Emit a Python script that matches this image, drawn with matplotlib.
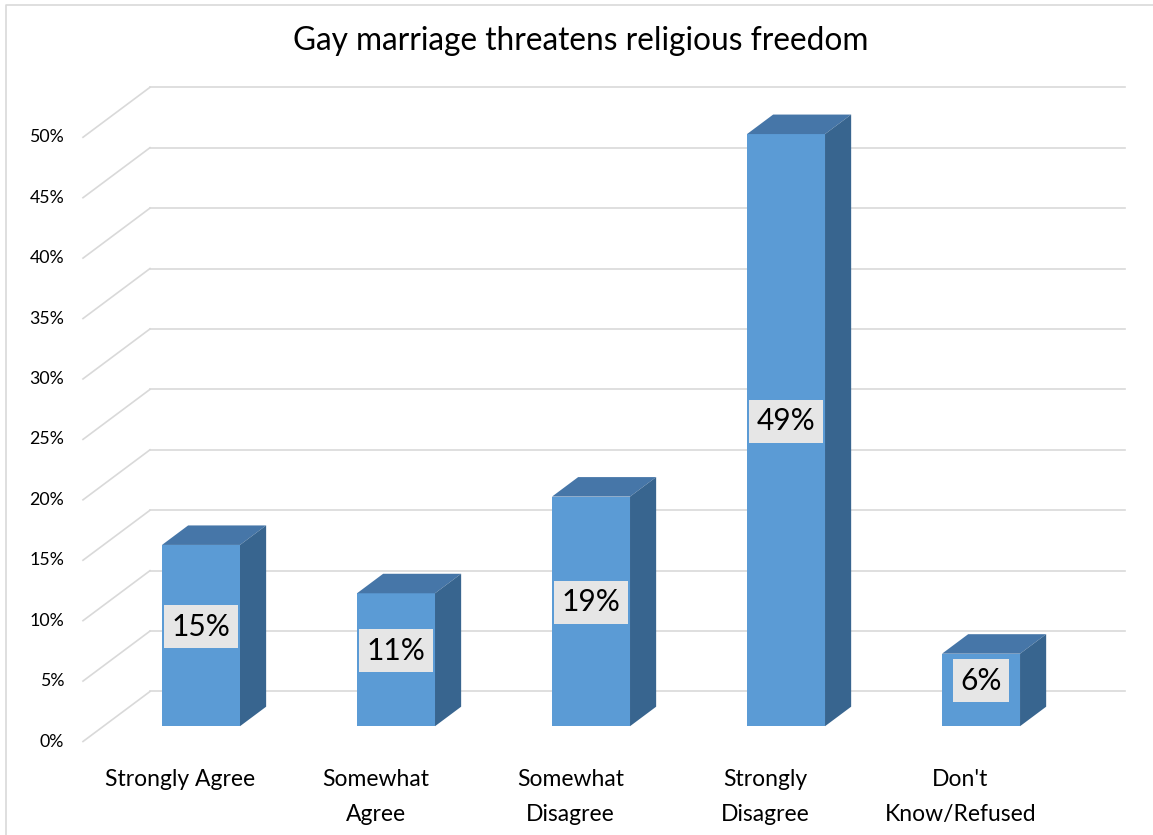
import numpy as np
import matplotlib.pyplot as plt
from matplotlib.patches import Polygon

categories = ["Strongly Agree", "Somewhat\nAgree", "Somewhat\nDisagree",
              "Strongly\nDisagree", "Don't\nKnow/Refused"]
values = [15, 11, 19, 49, 6]
yticks = [0, 5, 10, 15, 20, 25, 30, 35, 40, 45, 50]
title = "Gay marriage threatens religious freedom"

plt.rcParams['font.family'] = ['Lato', 'DejaVu Sans']

front_col = '#5B9BD5'
top_col = '#4676A8'
side_col = '#38658F'
grid_col = '#D9D9D9'

# oblique "3d" offsets in data units (x: category, y: percent)
DX = 0.3436
DY = 4.138
d0 = 0.306    # depth where the bar front face sits
bd = 0.39     # bar depth
w = 0.4       # bar width

W, H = 1153, 835
fig = plt.figure(figsize=(W / 100, H / 100), dpi=100)
ax = fig.add_axes([0, 0, 1, 1])
ax.set_xlim(-0.9256, 4.987)
ax.set_ylim(-7.737, 61.36)
ax.axis('off')

x = np.arange(len(values))
n = len(values)

# walls: diagonal side lines + back gridlines
for t in yticks:
    ax.plot([-0.5, -0.5 + DX], [t, t + DY], color=grid_col, lw=1.2, zorder=1)
    ax.plot([-0.5 + DX, n - 0.5 + DX], [t + DY, t + DY], color=grid_col, lw=1.2, zorder=1)
    ax.text(-0.597, t, f"{t}%", ha='right', va='center', fontsize=12.8, color='#000000')

# bars
xf = x + d0 * DX
bot = d0 * DY
ax.bar(xf, values, width=w, bottom=bot, color=front_col, zorder=3)
for xi, v in zip(xf, values):
    xl, xr = xi - w / 2, xi + w / 2
    top = bot + v
    ax.add_patch(Polygon([(xl, top), (xr, top), (xr + bd * DX, top + bd * DY),
                          (xl + bd * DX, top + bd * DY)], closed=True,
                         facecolor=top_col, edgecolor='none', zorder=3))
    ax.add_patch(Polygon([(xr, bot), (xr + bd * DX, bot + bd * DY),
                          (xr + bd * DX, top + bd * DY), (xr, top)], closed=True,
                         facecolor=side_col, edgecolor='none', zorder=3))
    ax.text(xi, bot + v / 2 + 0.75, f"{v}%", ha='center', va='center',
            fontsize=21.5, color='#000000', zorder=5,
            bbox=dict(boxstyle='square,pad=0.25', facecolor='#E6E6E6', edgecolor='none'))

# category labels
for xi, c in zip(x, categories):
    ax.text(xi, -2.28, c, ha='center', va='top', fontsize=16.5,
            linespacing=1.8, multialignment='center')

ax.text(581 / W, 1 - 50 / H, title, transform=ax.transAxes, ha='center',
        va='baseline', fontsize=22.8)

# chart border (left and top edges visible)
ax.plot([6 / W, 6 / W, 1], [0, 1 - 5 / H, 1 - 5 / H], transform=ax.transAxes,
        color=grid_col, lw=1.2, clip_on=False)

fig.savefig("out.png", dpi=100)
